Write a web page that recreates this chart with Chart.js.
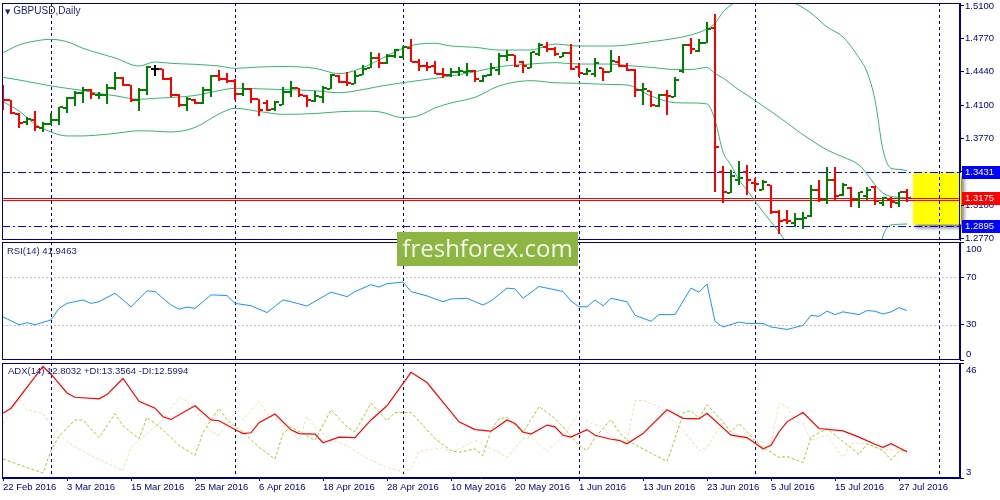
<!DOCTYPE html>
<html>
<head>
<meta charset="utf-8">
<script src="https://cdn.jsdelivr.net/npm/chart.js@4.4.0/dist/chart.umd.min.js"></script>
<style>
  body { margin: 0; background: #fff; width: 1000px; height: 500px; position: relative; overflow: hidden; }
  canvas { position: absolute; left: 0; }
  #main { top: 0; }
  #rsi { top: 241px; }
  #adx { top: 361px; }
  .lbl { position: absolute; font: 9.5px "Liberation Sans", sans-serif; color: #1c1c7c; white-space: nowrap; }
  #wm { position: absolute; left: 397px; top: 232px; width: 181px; height: 34px; background: #8db541;
        color: #f4f8ec; font: 24px "Open Sans", sans-serif; line-height: 32px; text-align: center; }
</style>
</head>
<body>
<canvas id="main" width="1000" height="242"></canvas>
<canvas id="rsi" width="1000" height="121"></canvas>
<canvas id="adx" width="1000" height="139"></canvas>
<div class="lbl" style="left:5px;top:5px;font-size:10px"><span style="font:7px 'DejaVu Sans'">&#9660;</span> GBPUSD,Daily</div>
<div class="lbl" style="left:7px;top:245px">RSI(14) 41.9463</div>
<div class="lbl" style="left:8px;top:365px">ADX(14) 12.8032 +DI:13.3564 -DI:12.5994</div>
<div id="wm">freshforex.com</div>
<script>
// ---- data ----
const dateIdx = [0, 8, 16, 24, 32, 40, 48, 56, 64, 72, 80, 88, 96, 104, 112];
const dateLabels = ['22 Feb 2016', '3 Mar 2016', '15 Mar 2016', '25 Mar 2016', '6 Apr 2016', '18 Apr 2016',
  '28 Apr 2016', '10 May 2016', '20 May 2016', '1 Jun 2016', '13 Jun 2016', '23 Jun 2016',
  '5 Jul 2016', '15 Jul 2016', '27 Jul 2016'];
const monthLines = [6, 29, 50, 72, 94, 117];

const opens = [1.4256,1.4156,1.4015,1.3935,1.3955,1.3875,1.3915,1.3955,1.4076,1.4176,
  1.4226,1.4256,1.4206,1.4206,1.4277,1.4377,1.4307,1.4156,1.4256,1.4467,
  1.4467,1.4367,1.4206,1.4106,1.4156,1.4126,1.4256,1.4397,1.4367,1.4347,
  1.4216,1.4266,1.4166,1.4126,1.4066,1.4106,1.4236,1.4277,1.4196,1.4146,
  1.4186,1.4266,1.4397,1.4337,1.4317,1.4407,1.4477,1.4578,1.4527,1.4598,
  1.4588,1.4678,1.4538,1.4497,1.4497,1.4417,1.4407,1.4437,1.4437,1.4447,
  1.4347,1.4407,1.4457,1.4598,1.4608,1.4538,1.4477,1.4618,1.4688,1.4668,
  1.4588,1.4628,1.4487,1.4417,1.4417,1.4477,1.4437,1.4538,1.4497,1.4457,
  1.4256,1.4246,1.4096,1.4206,1.4186,1.4447,1.4708,1.4648,1.4728,1.4879,
  1.3433,1.3222,1.3353,1.3433,1.3323,1.3252,1.3303,1.3032,1.2951,1.2921,
  1.2961,1.2991,1.3252,1.3152,1.3353,1.3202,1.3272,1.3152,1.3192,1.3283,
  1.3122,1.3162,1.3122,1.3232];
const highs = [1.4307,1.4156,1.4025,1.3985,1.4046,1.3935,1.4025,1.4086,1.4186,1.4246,
  1.4287,1.4266,1.4236,1.4317,1.4437,1.4387,1.4307,1.4277,1.4497,1.4507,
  1.4467,1.4387,1.4216,1.4186,1.4166,1.4287,1.4407,1.4457,1.4427,1.4367,
  1.4327,1.4277,1.4166,1.4156,1.4146,1.4287,1.4347,1.4277,1.4206,1.4246,
  1.4297,1.4417,1.4407,1.4437,1.4447,1.4507,1.4638,1.4628,1.4618,1.4668,
  1.4698,1.4768,1.4568,1.4538,1.4548,1.4477,1.4477,1.4487,1.4527,1.4457,
  1.4407,1.4527,1.4628,1.4658,1.4608,1.4548,1.4638,1.4728,1.4738,1.4688,
  1.4638,1.4718,1.4527,1.4477,1.4578,1.4477,1.4658,1.4598,1.4527,1.4467,
  1.4327,1.4246,1.4216,1.4256,1.4387,1.4718,1.4778,1.4768,1.4939,1.5019,
  1.3493,1.3453,1.3544,1.3503,1.3373,1.3353,1.3303,1.3052,1.3052,1.3021,
  1.3032,1.3303,1.3353,1.3483,1.3483,1.3323,1.3283,1.3232,1.3283,1.3293,
  1.3182,1.3182,1.3232,1.3262];
const lows = [1.4056,1.4015,1.3875,1.3905,1.3845,1.3835,1.3905,1.3905,1.4025,1.4096,
  1.4126,1.4166,1.4166,1.4116,1.4256,1.4297,1.4136,1.4046,1.4206,1.4397,
  1.4357,1.4186,1.4086,1.4046,1.4116,1.4116,1.4186,1.4347,1.4327,1.4156,
  1.4196,1.4126,1.3995,1.4046,1.4046,1.4106,1.4186,1.4186,1.4086,1.4136,
  1.4126,1.4266,1.4327,1.4297,1.4317,1.4407,1.4477,1.4477,1.4517,1.4578,
  1.4578,1.4538,1.4447,1.4447,1.4417,1.4377,1.4387,1.4397,1.4397,1.4337,
  1.4337,1.4397,1.4407,1.4548,1.4487,1.4427,1.4477,1.4598,1.4638,1.4598,
  1.4588,1.4457,1.4387,1.4407,1.4387,1.4347,1.4437,1.4487,1.4447,1.4186,
  1.4106,1.4086,1.4086,1.4005,1.4186,1.4427,1.4618,1.4638,1.4728,1.3232,
  1.3122,1.3222,1.3303,1.3202,1.3242,1.3252,1.3011,1.2811,1.2911,1.2881,
  1.2861,1.2981,1.3132,1.3112,1.3152,1.3192,1.3082,1.3072,1.3152,1.3102,
  1.3092,1.3072,1.3082,1.3132];
const closes = [1.4156,1.4025,1.3925,1.3965,1.3885,1.3915,1.3955,1.4086,1.4176,1.4226,
  1.4256,1.4216,1.4210,1.4277,1.4377,1.4307,1.4156,1.4256,1.4487,1.4467,
  1.4367,1.4206,1.4106,1.4166,1.4126,1.4256,1.4397,1.4367,1.4347,1.4216,
  1.4266,1.4166,1.4056,1.4056,1.4136,1.4236,1.4277,1.4206,1.4156,1.4196,
  1.4277,1.4407,1.4337,1.4327,1.4397,1.4467,1.4578,1.4527,1.4598,1.4658,
  1.4688,1.4538,1.4497,1.4487,1.4417,1.4407,1.4437,1.4447,1.4447,1.4367,
  1.4397,1.4477,1.4598,1.4608,1.4497,1.4497,1.4638,1.4708,1.4668,1.4618,
  1.4628,1.4467,1.4427,1.4447,1.4527,1.4437,1.4548,1.4497,1.4457,1.4256,
  1.4266,1.4106,1.4206,1.4196,1.4357,1.4708,1.4668,1.4728,1.4869,1.3684,
  1.3232,1.3393,1.3373,1.3353,1.3313,1.3333,1.3032,1.2941,1.2941,1.2961,
  1.2971,1.3252,1.3152,1.3353,1.3192,1.3303,1.3152,1.3232,1.3252,1.3142,
  1.3172,1.3132,1.3232,1.3175];

// Bollinger bands (20), read at sampled bars
const bbIdx = [0,2,4,6,8,10,12,14,17,19,21,24,27,29,32,35,39,42,45,47,50,52,54,56,59,62,66,69,72,76,
  78,81,84,86,88,89,90,91,92,93,95,97,99,101,103,105,107,108,109,110,111,112,113];
const bbUpper = [1.4631,1.4708,1.4748,1.4765,1.4741,1.4675,1.4625,1.4578,1.4497,1.4538,
  1.4524,1.4514,1.4497,1.4474,1.4487,1.4492,1.4474,1.4420,1.4482,1.4558,
  1.4675,1.4718,1.4725,1.4698,1.4685,1.4658,1.4658,1.4718,1.4698,1.4698,
  1.4708,1.4741,1.4775,1.4809,1.4869,1.4926,1.5040,1.5110,1.5160,1.5210,
  1.5230,1.5200,1.5127,1.5029,1.4889,1.4789,1.4578,1.4437,1.4156,1.3654,
  1.3470,1.3460,1.3446];
const bbMiddle = [1.4384,1.4357,1.4327,1.4297,1.4273,1.4251,1.4221,1.4199,1.4163,1.4173,
  1.4181,1.4201,1.4251,1.4273,1.4268,1.4261,1.4249,1.4229,1.4261,1.4292,
  1.4330,1.4352,1.4374,1.4397,1.4440,1.4490,1.4517,1.4531,1.4517,1.4517,
  1.4502,1.4484,1.4462,1.4462,1.4482,1.4422,1.4377,1.4317,1.4257,1.4206,
  1.4096,1.3985,1.3865,1.3754,1.3654,1.3584,1.3503,1.3413,1.3303,1.3222,
  1.3187,1.3179,1.3175];
const bbLower = [1.4139,1.4046,1.3915,1.3835,1.3795,1.3795,1.3805,1.3820,1.3847,1.3843,
  1.3835,1.3880,1.4016,1.4073,1.4041,1.4012,1.4020,1.4038,1.4044,1.4038,
  1.3978,1.4000,1.4076,1.4126,1.4183,1.4297,1.4350,1.4329,1.4324,1.4312,
  1.4307,1.4196,1.4129,1.4126,1.4116,1.3955,1.3634,1.3503,1.3353,1.3252,
  1.3032,1.2831,1.2600,1.2449,1.2409,1.2399,1.2379,1.2389,1.2449,1.2791,
  1.2901,1.2908,1.2911];

const priceTicks = [1.5100, 1.4770, 1.4440, 1.4100, 1.3770, 1.3440, 1.3100, 1.2770];
const resistance = 1.3431, support = 1.2895, lastPrice = 1.3175, redLine = 1.3150;
const zoneTop = 1.3425, zoneBottom = 1.2905, zoneStart = 113.75;

// RSI(14)
const rsiIdx = [0,2,3,4,6,7,8,10,11,12,14,16,18,19,21,22,23,24,26,28,
  29,31,33,35,36,38,41,43,44,46,47,48,49,50,51,53,55,56,58,60,
  61,63,64,65,67,69,70,71,72,73,74,75,76,78,79,81,82,84,86,87,
  88,89,90,92,93,95,96,98,100,101,102,103,104,105,107,108,109,110,111,112,113];
const rsiVal = [36.5,29.9,31.6,29.9,34,43.7,48,50.9,48,49.4,56.6,45.1,58.6,58,46.6,43.1,44.8,43.7,55.2,54.6,
  48,46,40.2,50.9,49.4,45.7,57.5,53.7,58,63.8,61.8,64.7,65.3,66.1,58,54.3,49.4,51.7,52.3,46.6,
  50,60.9,60.3,52.3,62.3,59.5,58,50,45.1,45.1,50.9,46,52.3,49.4,37.9,32.8,38.5,38.5,60.9,57.5,
  64.4,32.8,28,32.2,31,31,28,25.9,29.3,37.9,37,41.4,38.5,40.8,38.5,41.9,41.3,39,40.8,44.3,41.9];
const rsiTicks = [0, 30, 70, 100];
const rsiLevels = [70, 30];

// ADX(14)
const adxIdx = [0,1,5,6,8,9,12,13,15,17,19,20,21,24,26,27,29,30,31,32,34,36,37,39,40,42,44,46,48,51,
  53,57,59,61,62,63,64,65,66,68,69,70,71,73,74,76,77,78,80,83,85,87,88,91,93,95,96,97,98,100,
  102,105,107,109,110,111,112,113];
const adxVal = [27.2,29.1,44.7,41.8,34.8,33.2,32.6,34.2,40.2,31.7,29.1,25.9,24.9,30.0,24.7,24.4,21.1,19.6,19.9,23.7,
  26.9,21.0,19.6,19.4,16.2,18.3,18.1,24.7,30.0,42.5,38.7,24.0,21.1,20.5,22.5,24.7,23.4,20.2,19.4,22.8,
  22.1,19.0,18.3,21.1,19.0,17.5,17.1,15.8,19.6,28.5,25.3,25.1,27.2,19.0,18.1,13.9,15.2,20.2,24.0,27.5,
  21.5,20.6,18.3,15.6,14.5,15.8,14.3,12.8];
const plusIdx = [0,5,6,7,9,10,12,14,15,17,18,19,20,22,24,25,27,28,30,32,34,35,36,39,41,43,44,46,48,49,
  51,54,56,57,59,60,61,62,63,65,67,69,70,72,73,74,76,77,78,80,83,84,85,86,87,88,90,91,92,94,
  95,97,98,100,101,103,104,106,107,108,110,111,112,113];
const plusVal = [10.1,4.8,13.3,18.6,24.7,24.7,18.1,27.0,22.5,17.7,25.7,23.4,21.0,15.2,11.4,20.0,29.1,24.7,20.2,14.5,
  10.1,19.6,22.1,17.1,28.5,22.1,20.2,31.0,24.4,27.5,27.5,17.7,13.3,12.6,13.9,11.4,20.9,25.1,25.7,19.9,
  29.7,25.3,22.1,15.2,13.3,18.1,24.9,20.2,17.1,13.9,9.2,17.7,27.2,28.2,25.3,30.4,24.0,20.2,23.4,17.1,
  14.5,10.7,11.0,8.8,18.3,21.5,19.0,14.3,11.8,15.8,13.3,9.7,13.0,13.4];
const minusIdx = [0,2,3,5,6,8,11,15,16,18,20,22,23,25,26,27,29,30,32,33,36,37,38,39,41,43,45,48,50,51,
  52,55,56,59,62,63,65,66,68,70,72,73,75,76,78,79,80,82,83,85,87,88,90,91,92,94,96,97,98,99,
  100,101,103,105,106,108,110,112,113];
const minusVal = [23.4,32.6,28.5,27.2,22.8,16.4,11.4,5.7,14.5,19.6,24.7,33.3,31.7,24.7,20.2,19.0,27.8,24.7,31.7,27.2,
  20.9,17.1,25.9,22.1,17.1,15.2,11.2,6.9,5.4,6.3,13.0,14.3,12.2,17.1,12.5,10.7,17.7,18.3,13.0,18.6,
  27.2,24.0,22.1,18.3,16.4,32.0,32.0,29.7,26.6,20.9,13.3,14.5,24.0,20.2,17.7,17.1,15.8,31.0,29.7,24.0,
  23.4,17.1,19.0,10.7,16.1,15.8,13.5,13.9,12.6];
const adxTicks = [3, 46];

// ---- look ----
const NAVY = '#000080';
const FONT = { family: 'Liberation Sans', size: 9.5 };
const X_MIN = -0.125, X_MAX = 119.625;   // 8px per bar, first bar at x=3

Chart.defaults.font.family = 'Liberation Sans';

function pts(xs, ys) { return xs.map((x, i) => ({ x: x, y: ys[i] })); }

function yAxis(min, max, ticks, showLabels) {
  return {
    position: 'right', min: min, max: max,
    afterBuildTicks: s => { s.ticks = ticks.map(v => ({ value: v })); },
    afterFit: s => { s.width = 40; s.paddingTop = 0; s.paddingBottom = 0; },
    grid: { drawOnChartArea: false, tickLength: 4, color: NAVY },
    border: { color: NAVY },
    ticks: { display: showLabels, color: NAVY, font: FONT, padding: 1, autoSkip: false,
             callback: v => v.toFixed(4) }
  };
}

const hiddenX = { type: 'linear', min: X_MIN, max: X_MAX, display: false };

// vertical dashed month lines
const monthGrid = {
  id: 'monthGrid',
  beforeDatasetsDraw(chart) {
    const { ctx, chartArea: a, scales: { x } } = chart;
    ctx.save();
    ctx.strokeStyle = NAVY; ctx.lineWidth = 1; ctx.setLineDash([3, 3]);
    monthLines.forEach(m => {
      const px = Math.round(x.getPixelForValue(m)) + 0.5;
      ctx.beginPath(); ctx.moveTo(px, a.top); ctx.lineTo(px, a.bottom); ctx.stroke();
    });
    ctx.restore();
  }
};

// horizontal level lines, list in options.plugins.hLines.lines
const hLines = {
  id: 'hLines',
  beforeDatasetsDraw(chart, args, opts) {
    const { ctx, chartArea: a, scales: { y } } = chart;
    ctx.save();
    (opts.lines || []).forEach(l => {
      const py = Math.round(y.getPixelForValue(l.v)) + 0.5;
      ctx.strokeStyle = l.color; ctx.lineWidth = l.width || 1; ctx.setLineDash(l.dash || []);
      ctx.beginPath(); ctx.moveTo(a.left, py); ctx.lineTo(a.right, py); ctx.stroke();
    });
    ctx.restore();
  }
};

// yellow target zone with a drop shadow
const zoneBox = {
  id: 'zoneBox',
  beforeDatasetsDraw(chart) {
    const { ctx, chartArea: a, scales: { x, y } } = chart;
    const l = x.getPixelForValue(zoneStart), t = y.getPixelForValue(zoneTop), b = y.getPixelForValue(zoneBottom);
    ctx.save();
    ctx.shadowColor = 'rgba(0,0,0,0.5)'; ctx.shadowBlur = 4; ctx.shadowOffsetX = 3; ctx.shadowOffsetY = 3;
    ctx.fillStyle = '#ffff00';
    ctx.fillRect(l, t, a.right - l + 1, b - t);
    ctx.restore();
  }
};

// OHLC bars
const ohlcBars = {
  id: 'ohlcBars',
  afterDatasetsDraw(chart) {
    const { ctx, chartArea: a, scales: { x, y } } = chart;
    ctx.save();
    ctx.beginPath(); ctx.rect(a.left, a.top, a.right - a.left, a.bottom - a.top); ctx.clip();
    for (let i = 0; i < opens.length; i++) {
      const px = Math.round(x.getPixelForValue(i));
      ctx.fillStyle = closes[i] > opens[i] ? '#008000' : closes[i] < opens[i] ? '#ff0000' : '#000000';
      const yh = Math.round(y.getPixelForValue(highs[i])), yl = Math.round(y.getPixelForValue(lows[i]));
      const yo = Math.round(y.getPixelForValue(opens[i])), yc = Math.round(y.getPixelForValue(closes[i]));
      ctx.fillRect(px - 1, yh, 2, Math.max(yl - yh, 1));
      ctx.fillRect(px - 4, yo - 1, 3, 2);
      ctx.fillRect(px + 1, yc - 1, 3, 2);
    }
    ctx.restore();
  }
};

// coloured price tags on the axis
const priceTags = {
  id: 'priceTags',
  afterDraw(chart) {
    const { ctx, chartArea: a, scales: { y } } = chart;
    const tags = [[resistance, '#0000ff'], [lastPrice, '#ff0000'], [support, '#0000ff']];
    ctx.save();
    ctx.font = '9.5px "Liberation Sans"'; ctx.textBaseline = 'middle';
    tags.forEach(([v, c]) => {
      const py = Math.round(y.getPixelForValue(v));
      ctx.fillStyle = c; ctx.fillRect(a.right + 2, py - 6, 38, 13);
      ctx.fillStyle = '#ffffff'; ctx.fillText(v.toFixed(4), a.right + 5, py + 0.5);
    });
    ctx.restore();
  }
};

// sub-window scale labels kept inside the panel like the terminal does
const sideLabels = {
  id: 'sideLabels',
  afterDraw(chart, args, opts) {
    if (!opts.values) return;
    const { ctx, chartArea: a, scales: { y } } = chart;
    ctx.save();
    ctx.font = '9.5px "Liberation Sans"'; ctx.fillStyle = NAVY; ctx.textBaseline = 'middle';
    opts.values.forEach(v => {
      const py = Math.min(Math.max(y.getPixelForValue(v), a.top + 7), a.bottom - 6);
      ctx.fillText(String(v), a.right + 6, py);
    });
    ctx.restore();
  }
};

const panelBox = {
  id: 'panelBox',
  afterDraw(chart) {
    const { ctx, chartArea: a } = chart;
    ctx.save();
    ctx.strokeStyle = NAVY; ctx.lineWidth = 1; ctx.setLineDash([]);
    ctx.strokeRect(a.left + 0.5, a.top + 0.5, a.right - a.left - 1, a.bottom - a.top - 1);
    ctx.restore();
  }
};

const base = {
  responsive: false, animation: false, events: [],
  elements: { point: { radius: 0 } }
};

// main price window
new Chart(document.getElementById('main'), {
  type: 'line',
  data: {
    datasets: [
      { data: pts(bbIdx, bbUpper), borderColor: '#3cb371', borderWidth: 1, cubicInterpolationMode: 'monotone' },
      { data: pts(bbIdx, bbMiddle), borderColor: '#3cb371', borderWidth: 1, cubicInterpolationMode: 'monotone' },
      { data: pts(bbIdx, bbLower), borderColor: '#3cb371', borderWidth: 1, cubicInterpolationMode: 'monotone' }
    ]
  },
  options: Object.assign({}, base, {
    layout: { padding: { left: 2, top: 3, right: 0, bottom: 2 } },
    scales: { x: hiddenX, y: yAxis(1.2750, 1.5130, priceTicks, true) },
    plugins: {
      legend: { display: false }, tooltip: { enabled: false },
      hLines: { lines: [
        { v: resistance, color: '#0000ff', dash: [8, 3, 2, 3] },
        { v: support, color: '#0000ff', dash: [8, 3, 2, 3] },
        { v: lastPrice, color: '#ff0000' },
        { v: redLine, color: '#ff0000' }
      ] }
    }
  }),
  plugins: [zoneBox, monthGrid, hLines, ohlcBars, priceTags, panelBox]
});

// RSI window
const rsiY = yAxis(0, 100, rsiTicks, false);
new Chart(document.getElementById('rsi'), {
  type: 'line',
  data: { datasets: [{ data: pts(rsiIdx, rsiVal), borderColor: '#1e90ff', borderWidth: 1 }] },
  options: Object.assign({}, base, {
    layout: { padding: { left: 2, top: 1, right: 0, bottom: 2 } },
    scales: { x: hiddenX, y: rsiY },
    plugins: {
      legend: { display: false }, tooltip: { enabled: false },
      hLines: { lines: rsiLevels.map(v => ({ v: v, color: '#c0c0c0', dash: [2, 2] })) },
      sideLabels: { values: rsiTicks }
    }
  }),
  plugins: [monthGrid, hLines, sideLabels, panelBox]
});

// ADX window with the date axis
new Chart(document.getElementById('adx'), {
  type: 'line',
  data: {
    datasets: [
      { data: pts(adxIdx, adxVal), borderColor: '#ff0000', borderWidth: 1.2 },
      { data: pts(plusIdx, plusVal), borderColor: '#9acd32', borderWidth: 1, borderDash: [3, 2] },
      { data: pts(minusIdx, minusVal), borderColor: '#f5deb3', borderWidth: 1, borderDash: [3, 2] }
    ]
  },
  options: Object.assign({}, base, {
    layout: { padding: { left: 2, top: 2, right: 0, bottom: 0 } },
    scales: {
      x: {
        type: 'linear', min: X_MIN, max: X_MAX, position: 'bottom',
        afterBuildTicks: s => { s.ticks = dateIdx.map(v => ({ value: v })); },
        afterFit: s => { s.height = 22; s.paddingLeft = 0; s.paddingRight = 0; },
        grid: { drawOnChartArea: false, tickLength: 3, color: NAVY },
        border: { color: NAVY },
        ticks: { color: NAVY, font: FONT, align: 'start', maxRotation: 0, minRotation: 0,
                 autoSkip: false, padding: 1, callback: (v, i) => dateLabels[i] }
      },
      y: yAxis(3, 46, adxTicks, false)
    },
    plugins: {
      legend: { display: false }, tooltip: { enabled: false },
      sideLabels: { values: adxTicks }
    }
  }),
  plugins: [monthGrid, sideLabels, panelBox]
});
</script>
</body>
</html>
